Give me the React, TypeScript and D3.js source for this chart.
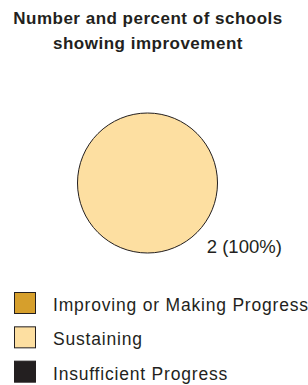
import React from "react";
import * as d3 from "d3";

const titleLines = ["Number and percent of schools", "showing improvement"];
const categories = ["Improving or Making Progress", "Sustaining", "Insufficient Progress"];
const values = [0, 2, 0];
const colors = ["#D69F2C", "#FDDFA1", "#231F20"];

const W = 308;
const H = 385;
const FONT = "'Liberation Sans', Arial, Helvetica, sans-serif";
const INK = "#231F20";

export default function App() {
  const cx = 147.5;
  const cy = 183;
  const r = 70;
  const total = d3.sum(values);
  const pie = d3.pie<number>().sort(null).value((d) => d);
  const arcs = pie(values);
  const arc = d3.arc<d3.PieArcDatum<number>>().innerRadius(0).outerRadius(r);

  const legendY = d3.scaleBand<string>().domain(categories).range([292, 395]).paddingInner(0);

  return (
    <svg
      width={W}
      height={H}
      style={{ position: "absolute", left: 0, top: 0, background: "#fff" }}
      fontFamily={FONT}
    >
      {titleLines.map((t, i) => (
        <text
          key={i}
          x={148}
          y={23.5 + i * 25.5}
          textAnchor="middle"
          fontWeight="bold"
          fontSize={17}
          letterSpacing={0.5}
          fill={INK}
        >
          {t}
        </text>
      ))}
      <g transform={`translate(${cx},${cy})`}>
        {arcs.map((a, i) =>
          a.value > 0 ? (
            a.endAngle - a.startAngle >= 2 * Math.PI - 1e-6 ? (
              <circle key={i} r={r} fill={colors[i]} stroke={INK} strokeWidth={1} />
            ) : (
              <path key={i} d={arc(a) || ""} fill={colors[i]} stroke={INK} strokeWidth={1} />
            )
          ) : null
        )}
        {arcs.map((a, i) =>
          a.value > 0 ? (
            <text key={"l" + i} x={r * 0.847} y={r * 1.0} fontSize={18.5} fill={INK}>
              {`${a.value} (${Math.round((a.value / total) * 100)}%)`}
            </text>
          ) : null
        )}
      </g>
      {categories.map((c, i) => {
        const y = legendY(c)!;
        return (
          <g key={c}>
            <rect x={14.5} y={y + 0.5} width={21} height={21} fill={colors[i]} stroke={INK} strokeWidth={1} />
            <text x={53} y={y + 19} fontSize={17.5} letterSpacing={0.8} fill={INK}>
              {c}
            </text>
          </g>
        );
      })}
    </svg>
  );
}
